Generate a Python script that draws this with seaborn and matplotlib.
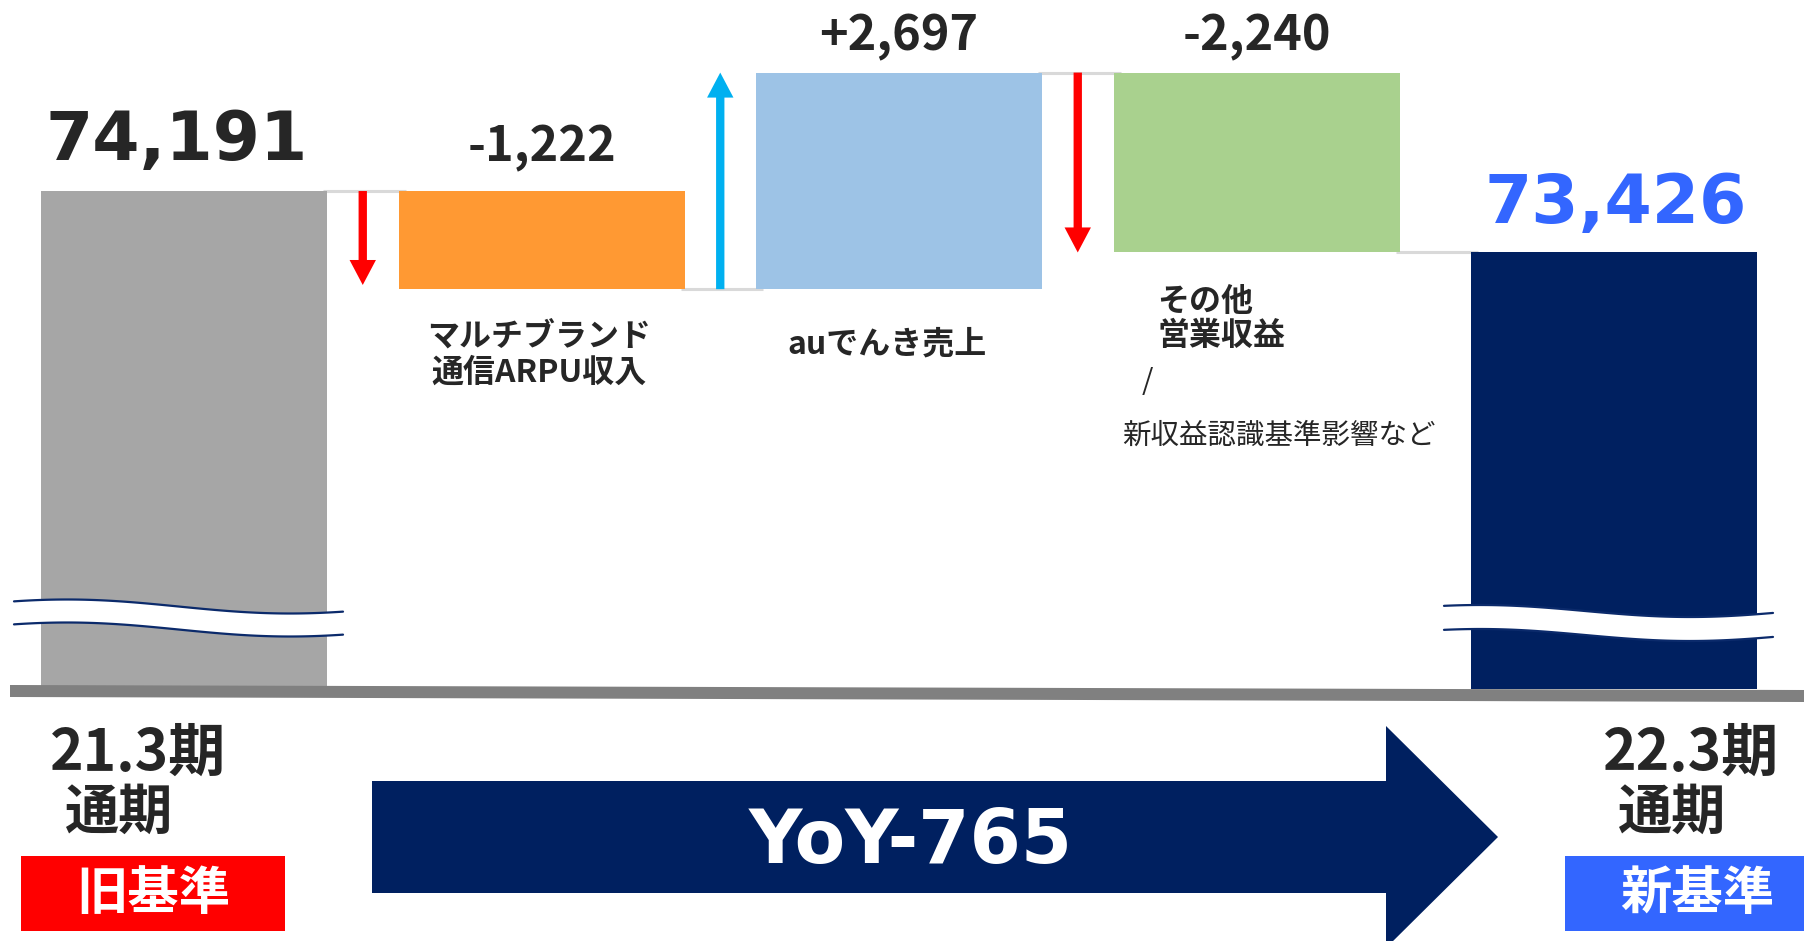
import numpy as np
import pandas as pd
import matplotlib
matplotlib.use("Agg")
import matplotlib.pyplot as plt
from matplotlib.patches import Polygon, Rectangle
import seaborn as sns

# data
categories = ['21.3期', 'マルチブランド通信ARPU収入', 'auでんき売上', 'その他営業収益', '22.3期']
values = [74191, -1222, 2697, -2240, 73426]
kinds = ['total', 'delta', 'delta', 'delta', 'total']
value_labels = ['74,191', '-1,222', '+2,697', '-2,240', '73,426']
bar_colors = ['#A6A6A6', '#FF9933', '#9DC3E6', '#A9D18E', '#002060']
arrow_colors = ['#FF0000', '#00B0F0', '#FF0000']
yoy_label = f'YoY{values[-1] - values[0]:+,d}'

base = 67990  # axis is broken, bars start here

# waterfall geometry
bottoms, heights, levels = [], [], []
run = 0
for v, k in zip(values, kinds):
    if k == 'total':
        bottoms.append(base)
        heights.append(v - base)
        levels.append((v, v))
        run = v
    else:
        bottoms.append(min(run, run + v))
        heights.append(abs(v))
        levels.append((run, run + v))
        run += v

df = pd.DataFrame({'cat': categories, 'height': heights, 'bottom': bottoms})

sns.set_theme(style='white')
plt.rcParams['font.family'] = ['Noto Sans CJK JP', 'DejaVu Sans']

W, H = 1804, 941
fig = plt.figure(figsize=(W / 100, H / 100), dpi=100)
ax = fig.add_axes([0, 0, 1, 1])


def fx(px):
    return np.asarray(px) / W


def fy(py):
    return 1 - np.asarray(py) / H


sns.barplot(data=df, x='cat', y='height', bottom=df['bottom'].to_numpy(),
            color=bar_colors[0], width=0.8, errorbar=None, saturation=1, ax=ax, zorder=2)
for p, c in zip(ax.patches, bar_colors):
    p.set_facecolor(c)
    p.set_edgecolor('none')

# connectors
for i in range(len(values) - 1):
    y = levels[i][1]
    ax.plot([i + 0.39, i + 0.62], [y, y], color='#D9D9D9', lw=2.2, zorder=1,
            solid_capstyle='butt')

# change arrows
for j, i in enumerate(range(1, len(values) - 1)):
    start, end = levels[i]
    ax.annotate('', xy=(i - 0.5, end), xytext=(i - 0.5, start),
                arrowprops=dict(arrowstyle='simple,head_length=1.8,head_width=1.9,tail_width=0.6',
                                mutation_scale=10, color=arrow_colors[j], lw=0,
                                shrinkA=0, shrinkB=-3 if j == 0 else 0), zorder=3)

# value labels above bars
label_off = [(-5, 22), (0, 21), (0, 16), (0, 16), (1, 21)]
for i, (lab, off) in enumerate(zip(value_labels, label_off)):
    top = bottoms[i] + heights[i]
    if kinds[i] == 'total':
        kw = dict(fontsize=49, family='DejaVu Sans', fontweight='bold',
                  color='#262626' if i == 0 else '#3366FF')
    else:
        kw = dict(fontsize=35, fontweight='bold', color='#262626')
    ax.annotate(lab, xy=(i, top), xytext=off, textcoords='offset points',
                ha='center', va='baseline', **kw)

ax.set_xlim(-184 / 357.5, (W - 184) / 357.5)
ax.set_ylim(64851, 76570)
ax.set_axis_off()


# axis break marks
def break_mark(x0, x1, mid, amp, phase_x, period, gap):
    xs = np.linspace(x0, x1, 120)
    upper = mid - amp * np.cos(2 * np.pi * (xs - phase_x) / period)
    lower = upper + gap
    pts = np.column_stack([fx(np.r_[xs, xs[::-1]]), fy(np.r_[upper, lower[::-1]])])
    ax.add_patch(Polygon(pts, closed=True, transform=fig.transFigure,
                         facecolor='white', edgecolor='none', zorder=5))
    for yy in (upper, lower):
        ax.plot(fx(xs), fy(yy), transform=fig.transFigure, color='#0B2A6B',
                lw=1.6, zorder=6)


break_mark(14, 343, 606.5, 7, 67, 446, 23)
break_mark(1444, 1773, 611, 6, 1480, 420, 24)

# base line band
ax.add_patch(Polygon([(fx(10), fy(685)), (fx(W), fy(690)), (fx(W), fy(702)), (fx(10), fy(697))],
                     closed=True, transform=fig.transFigure, facecolor='#808080',
                     edgecolor='none', zorder=4))

# category labels
dark = '#262626'
fig.text(fx(539), fy(355), 'マルチブランド\n通信ARPU収入', ha='center', va='center',
         multialignment='center', fontsize=23, fontweight='bold', color=dark, linespacing=1.1)
fig.text(fx(887), fy(345), 'auでんき売上', ha='center', va='center',
         fontsize=23, fontweight='bold', color=dark)
fig.text(fx(1157), fy(319), 'その他\n営業収益', ha='left', va='center',
         multialignment='left', fontsize=23, fontweight='bold', color=dark, linespacing=1.1)
fig.text(fx(1142), fy(382), '/', ha='left', va='center', fontsize=21, color=dark)
fig.text(fx(1122), fy(436), '新収益認識基準影響など', ha='left', va='center', fontsize=20.5, color=dark)

# period labels
for x_top, x_sub, txt in [(50, 65, '21.3期'), (1603, 1618, '22.3期')]:
    fig.text(fx(x_top), fy(771), txt, ha='left', va='baseline', fontsize=41,
             fontweight='bold', color=dark)
    fig.text(fx(x_sub), fy(813), '通期', ha='left', va='center', fontsize=39,
             fontweight='bold', color=dark)

# basis boxes
for x0, x1, c, txt, cx in [(21, 285, '#FF0000', '旧基準', 153), (1565, W, '#3366FF', '新基準', 1697)]:
    fig.patches.append(Rectangle((fx(x0), fy(931)), fx(x1) - fx(x0), fy(856) - fy(931),
                                 transform=fig.transFigure, facecolor=c, edgecolor='none'))
    fig.text(fx(cx), fy(894), txt, ha='center', va='center', fontsize=37,
             fontweight='bold', color='white')

# YoY arrow
arrow_pts = [(372, 781), (1386, 781), (1386, 726), (1498, 837), (1386, 948),
             (1386, 893), (372, 893)]
fig.patches.append(Polygon([(fx(a), fy(b)) for a, b in arrow_pts], closed=True,
                           transform=fig.transFigure, facecolor='#002060', edgecolor='none'))
fig.text(fx(911), fy(842), yoy_label, ha='center', va='center', fontsize=53,
         family='DejaVu Sans', fontweight='bold', color='white')

fig.savefig('out.png', dpi=100, facecolor='white')
